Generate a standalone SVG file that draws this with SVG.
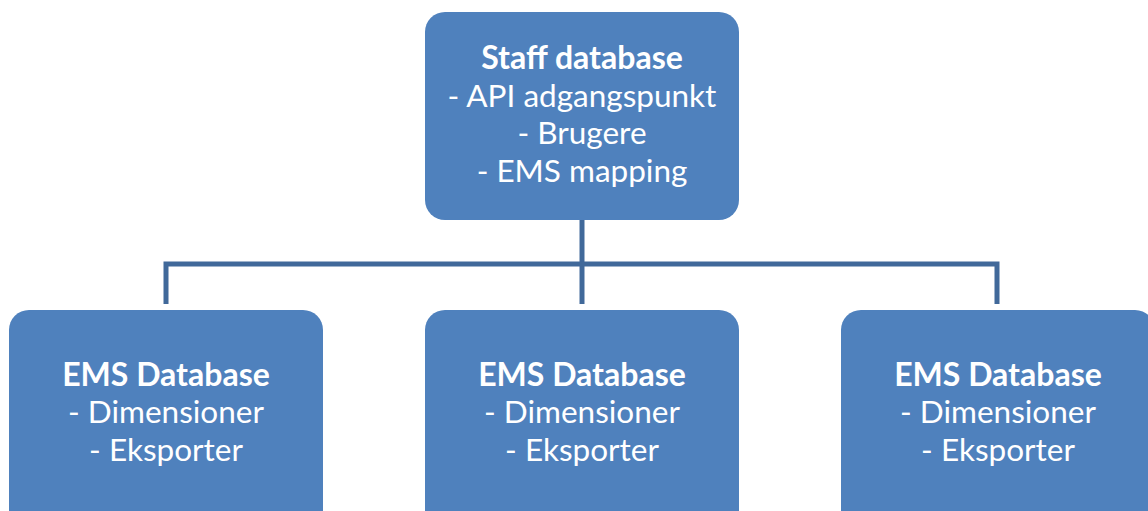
<svg xmlns="http://www.w3.org/2000/svg" width="1148" height="511" viewBox="0 0 1148 511">
<style>
.box{fill:#4f81bd}
.t{font-family:Lato,"Open Sans",sans-serif;font-size:31.5px;fill:#fff;text-anchor:middle}
.b{font-weight:bold;font-size:32px}
.c{fill:none;stroke:#41699a;stroke-width:5}
</style>
<g id="connectors">
<path class="c" d="M582 220 V304"/>
<path class="c" d="M166 304 V264 H997 V304"/>
</g>
<g id="staff">
<rect class="box" x="425" y="12" width="314" height="208" rx="20"/>
<text class="t b" x="582" y="69">Staff database</text>
<text class="t" x="582" y="107">- API adgangspunkt</text>
<text class="t" x="582" y="144">- Brugere</text>
<text class="t" x="582" y="182">- EMS mapping</text>
</g>
<g id="ems1">
<rect class="box" x="9" y="310" width="314" height="230" rx="20"/>
<text class="t b" x="166" y="386">EMS Database</text>
<text class="t" x="166" y="423">- Dimensioner</text>
<text class="t" x="166" y="461">- Eksporter</text>
</g>
<g id="ems2">
<rect class="box" x="425" y="310" width="314" height="230" rx="20"/>
<text class="t b" x="582" y="386">EMS Database</text>
<text class="t" x="582" y="423">- Dimensioner</text>
<text class="t" x="582" y="461">- Eksporter</text>
</g>
<g id="ems3">
<rect class="box" x="841" y="310" width="314" height="230" rx="20"/>
<text class="t b" x="998" y="386">EMS Database</text>
<text class="t" x="998" y="423">- Dimensioner</text>
<text class="t" x="998" y="461">- Eksporter</text>
</g>
</svg>
